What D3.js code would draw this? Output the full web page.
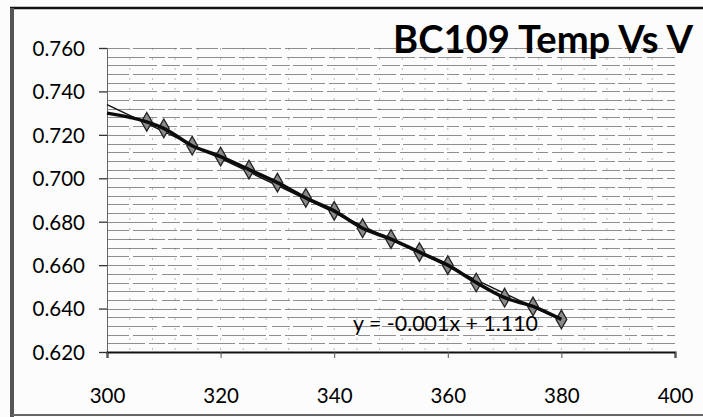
<!DOCTYPE html>
<html><head><meta charset="utf-8">
<script src="https://cdn.jsdelivr.net/npm/d3@7"></script>
<style>
html,body{margin:0;padding:0;background:#fff;}
svg{display:block;}
</style></head>
<body>
<svg id="chart" width="703" height="417"></svg>
<script>
// ---- data ----
const title = "BC109 Temp Vs V";
const temps = [300, 307, 310, 315, 320, 325, 330, 335, 340, 345, 350, 355, 360, 365, 370, 375, 380];
const volts = [0.730, 0.726, 0.723, 0.715, 0.710, 0.704, 0.698, 0.691, 0.685, 0.677, 0.672, 0.666, 0.660, 0.652, 0.645, 0.641, 0.635];
const markerShown = [false, true, true, true, true, true, true, true, true, true, true, true, true, true, true, true, true];
const xTicks = [300, 320, 340, 360, 380, 400];
const yTicks = [0.620, 0.640, 0.660, 0.680, 0.700, 0.720, 0.740, 0.760];
const trendLabel = "y = -0.001x + 1.110";

const svg = d3.select("#chart");
const font = "Lato, 'Open Sans', sans-serif";

// frame (photographed page border)
svg.append("rect").attr("x",0).attr("y",0).attr("width",703).attr("height",417).attr("fill","#fdfcfc");
svg.append("line").attr("x1",10).attr("x2",703).attr("y1",8).attr("y2",8).attr("stroke","#111").attr("stroke-width",2.5);
svg.append("line").attr("x1",12).attr("x2",12).attr("y1",8).attr("y2",417).attr("stroke","#555").attr("stroke-width",4);
svg.append("line").attr("x1",12).attr("x2",703).attr("y1",415).attr("y2",415).attr("stroke","#666").attr("stroke-width",2);

const x = d3.scaleLinear().domain([300, 400]).range([107, 675]);
const y = d3.scaleLinear().domain([0.620, 0.760]).range([352, 48]);

// vertical minor gridlines (faint dotted)
const vMinor = d3.range(304, 400, 4);
svg.append("g").selectAll("line").data(vMinor).join("line")
  .attr("x1", d => x(d)).attr("x2", d => x(d))
  .attr("y1", y(0.760)).attr("y2", y(0.620))
  .attr("stroke", "#c4b4b8").attr("stroke-width", 1).attr("stroke-dasharray", "2 8");

// horizontal minor gridlines every 0.004
const hMinor = d3.range(0, 36).map(i => 0.620 + (i + 1) * 0.004).filter(v => v <= 0.7601);
svg.append("g").selectAll("line").data(hMinor).join("line")
  .attr("x1", x(300)).attr("x2", x(400))
  .attr("y1", d => Math.round(y(d)) + 0.5).attr("y2", d => Math.round(y(d)) + 0.5)
  .attr("stroke", "#4a4244").attr("stroke-opacity", 0.6).attr("stroke-width", 1.2)
  .attr("stroke-dasharray", (d, i) => ["38 4 16 3 24 5", "22 4 44 3 12 4", "50 5 18 3 30 4"][i % 3]);

// axes
const yAxis = d3.axisLeft(y).tickValues(yTicks).tickFormat(d3.format(".3f")).tickSize(8).tickPadding(14);
const gy = svg.append("g").attr("transform", `translate(${x(300)},0)`).call(yAxis);
gy.select(".domain").attr("stroke", "#666").attr("stroke-width", 1);
gy.selectAll(".tick line").attr("stroke", "#333").attr("stroke-width", 1.3);
gy.selectAll(".tick text").attr("font-family", font).attr("font-size", 20.5).attr("fill", "#000").attr("dy", "0.36em");

const xAxis = d3.axisBottom(x).tickValues(xTicks).tickFormat(d3.format("d")).tickSize(6).tickPadding(30);
const gx = svg.append("g").attr("transform", `translate(0,${y(0.620)})`).call(xAxis);
gx.select(".domain").attr("stroke", "#111").attr("stroke-width", 2);
gx.selectAll(".tick line").attr("stroke", "#555").attr("stroke-width", 1);
gx.selectAll(".tick text").attr("font-family", font).attr("font-size", 20.5).attr("fill", "#000");

// data
const pts = temps.map((t, i) => ({t, v: volts[i], m: markerShown[i]}));

// linear trendline (least squares over data)
const mx = d3.mean(temps), my = d3.mean(volts);
const slope = d3.sum(pts, p => (p.t - mx) * (p.v - my)) / d3.sum(pts, p => (p.t - mx) ** 2);
const icpt = my - slope * mx;
svg.append("line")
  .attr("x1", x(300)).attr("y1", y(icpt + slope * 300))
  .attr("x2", x(380)).attr("y2", y(icpt + slope * 380))
  .attr("stroke", "#111").attr("stroke-width", 1.4);

// markers
svg.append("g").selectAll("path").data(pts.filter(p => p.m)).join("path")
  .attr("transform", p => `translate(${x(p.t)},${y(p.v)})`)
  .attr("d", d3.symbol(d3.symbolDiamond, 100))
  .attr("fill", "#8a8a8a").attr("stroke", "#222").attr("stroke-width", 1.3);

// series line (smoothed)
svg.append("path").datum(pts)
  .attr("d", d3.line().x(p => x(p.t)).y(p => y(p.v)).curve(d3.curveMonotoneX))
  .attr("fill", "none").attr("stroke", "#0c0c0c").attr("stroke-width", 3.5);

// trend label
svg.append("text").attr("x", 353).attr("y", 331)
  .attr("font-family", font).attr("font-size", 21).attr("fill", "#000")
  .attr("textLength", 185).attr("lengthAdjust", "spacingAndGlyphs")
  .text(trendLabel);

// title
svg.append("text").attr("x", 693).attr("y", 53).attr("text-anchor", "end")
  .attr("font-family", font).attr("font-weight", "bold").attr("font-size", 38).attr("fill", "#000")
  .attr("textLength", 300).attr("lengthAdjust", "spacingAndGlyphs")
  .text(title);
</script>
</body></html>
